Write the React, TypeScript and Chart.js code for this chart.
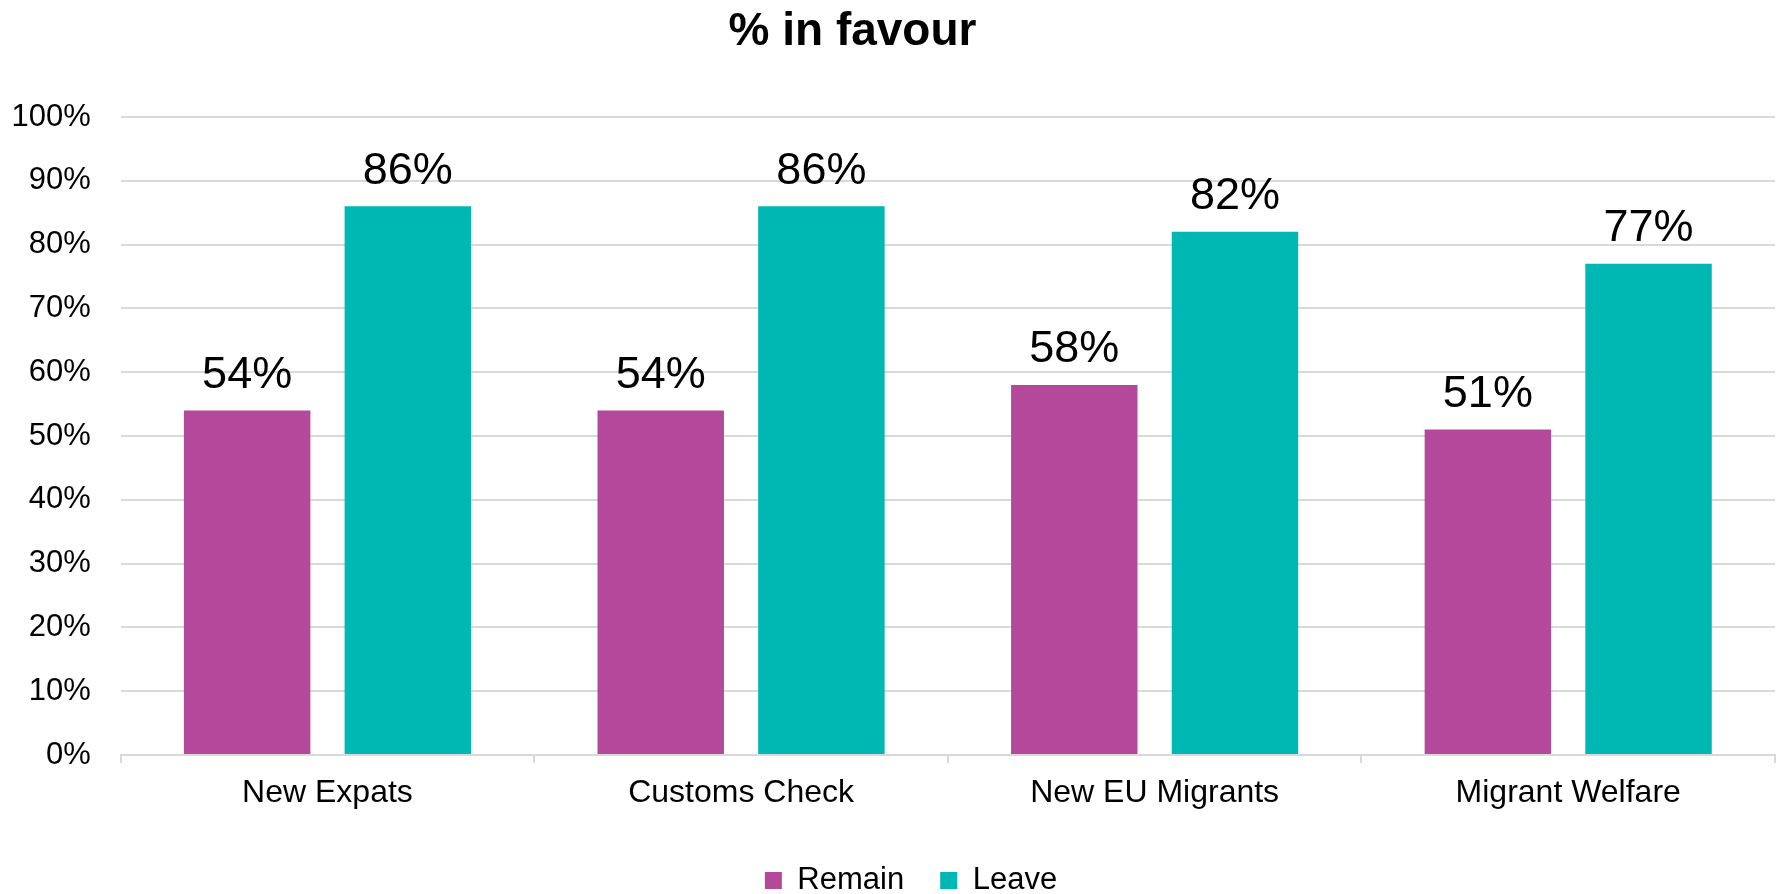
import React, { useEffect, useRef } from 'react';
import { Chart, registerables } from 'chart.js';

Chart.register(...registerables);

const categories = ['New Expats', 'Customs Check', 'New EU Migrants', 'Migrant Welfare'];
const remainValues = [54, 54, 58, 51];
const leaveValues = [86, 86, 82, 77];
const seriesNames = ['Remain', 'Leave'];
const seriesColors = ['#B4499B', '#00B8B3'];
const titleText = '% in favour';
const yMin = 0;
const yMax = 100;
const yStep = 10;

const FONT = '"Liberation Sans", Arial, Helvetica, sans-serif';

const titlePlugin = {
  id: 'customTitle',
  afterDraw(chart: any) {
    const ctx = chart.ctx;
    ctx.save();
    ctx.font = `bold 46px ${FONT}`;
    ctx.fillStyle = '#000';
    ctx.textAlign = 'center';
    ctx.textBaseline = 'alphabetic';
    ctx.fillText(titleText, 852.5, 45);
    ctx.restore();
  },
};

const valueLabelPlugin = {
  id: 'valueLabels',
  afterDatasetsDraw(chart: any) {
    const ctx = chart.ctx;
    ctx.save();
    ctx.font = `45px ${FONT}`;
    ctx.fillStyle = '#000';
    ctx.textAlign = 'center';
    ctx.textBaseline = 'alphabetic';
    chart.data.datasets.forEach((ds: any, di: number) => {
      const meta = chart.getDatasetMeta(di);
      meta.data.forEach((el: any, i: number) => {
        ctx.fillText(`${ds.data[i]}%`, el.x, el.y - 22.5);
      });
    });
    ctx.restore();
  },
};

export default function App() {
  const canvasRef = useRef<HTMLCanvasElement | null>(null);

  useEffect(() => {
    if (!canvasRef.current) return;
    Chart.defaults.font.family = FONT;
    const chart = new Chart(canvasRef.current, {
      type: 'bar',
      data: {
        labels: categories,
        datasets: [
          {
            label: seriesNames[0],
            data: remainValues,
            backgroundColor: seriesColors[0],
            borderWidth: 0,
            categoryPercentage: 0.777,
            barPercentage: 0.787,
          },
          {
            label: seriesNames[1],
            data: leaveValues,
            backgroundColor: seriesColors[1],
            borderWidth: 0,
            categoryPercentage: 0.777,
            barPercentage: 0.787,
          },
        ],
      },
      options: {
        animation: false,
        responsive: false,
        devicePixelRatio: 1,
        layout: { padding: { top: 117, left: 0, right: 0, bottom: 0 } },
        plugins: {
          title: { display: false },
          tooltip: { enabled: false },
          legend: {
            display: true,
            position: 'bottom',
            labels: {
              boxWidth: 17,
              boxHeight: 17,
              padding: 36,
              color: '#000',
              font: { size: 31, family: FONT },
            },
          },
        },
        scales: {
          x: {
            afterFit: (scale: any) => {
              scale.height = 74;
            },
            grid: {
              offset: true,
              drawOnChartArea: false,
              drawTicks: true,
              tickLength: 8,
              color: '#d9d9d9',
              lineWidth: 2,
            },
            border: { display: true, color: '#d9d9d9', width: 2 },
            ticks: {
              color: '#000',
              padding: 11,
              font: { size: 32, family: FONT },
              maxRotation: 0,
            },
          },
          y: {
            min: yMin,
            max: yMax,
            afterFit: (scale: any) => {
              scale.width = 120.7;
            },
            grid: {
              drawTicks: false,
              color: '#d9d9d9',
              lineWidth: 2,
            },
            border: { display: false },
            ticks: {
              stepSize: yStep,
              color: '#000',
              padding: 30,
              font: { size: 31, family: FONT },
              callback: (v: any) => `${v}%`,
            },
          },
          yRight: {
            type: 'linear',
            position: 'right',
            display: true,
            afterFit: (scale: any) => {
              scale.width = 47;
            },
            grid: { display: false },
            border: { display: false },
            ticks: { display: false },
          },
        },
      },
      plugins: [titlePlugin, valueLabelPlugin],
    });
    return () => chart.destroy();
  }, []);

  return (
    <div
      style={{
        position: 'fixed',
        left: 0,
        top: 0,
        width: 1778,
        height: 894,
        overflow: 'hidden',
        background: '#fff',
      }}
    >
      <canvas ref={canvasRef} width={1822} height={906} style={{ display: 'block' }} />
    </div>
  );
}
